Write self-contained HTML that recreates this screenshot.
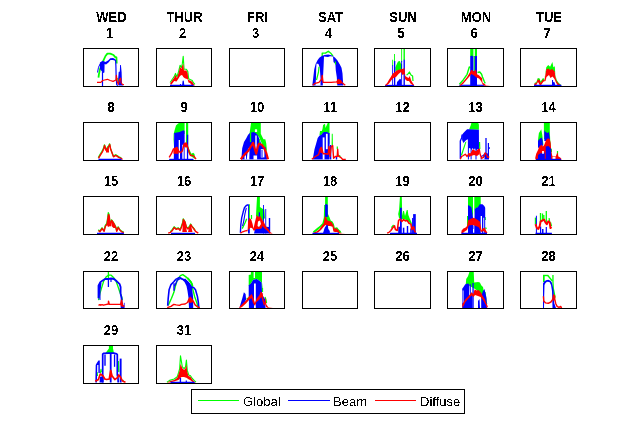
<!DOCTYPE html>
<html><head><meta charset="utf-8"><style>
html,body{margin:0;padding:0;background:#fff;width:636px;height:430px;overflow:hidden}
svg{display:block}
.t{font-family:"Liberation Sans",sans-serif;font-weight:bold;font-size:13px;text-anchor:middle;fill:#000}
.l{font-family:"Liberation Sans",sans-serif;font-size:13px;fill:#000}
</style></head><body>
<svg width="636" height="430" viewBox="0 0 636 430">
<rect width="636" height="430" fill="#fff"/>
<defs><filter id="crisp" x="0" y="0" width="636" height="430" filterUnits="userSpaceOnUse"><feComponentTransfer><feFuncA type="discrete" tableValues="0 1"/></feComponentTransfer></filter></defs>
<g filter="url(#crisp)"><text transform="translate(111.5,22) scale(1,1.1)" class="t">WED</text><text transform="translate(109.5,38) scale(1,1.1)" class="t">1</text><text transform="translate(184.5,22) scale(1,1.1)" class="t">THUR</text><text transform="translate(182.5,38) scale(1,1.1)" class="t">2</text><text transform="translate(257.5,22) scale(1,1.1)" class="t">FRI</text><text transform="translate(255.5,38) scale(1,1.1)" class="t">3</text><text transform="translate(330.5,22) scale(1,1.1)" class="t">SAT</text><text transform="translate(328.5,38) scale(1,1.1)" class="t">4</text><text transform="translate(403.0,22) scale(1,1.1)" class="t">SUN</text><text transform="translate(401.0,38) scale(1,1.1)" class="t">5</text><text transform="translate(476.0,22) scale(1,1.1)" class="t">MON</text><text transform="translate(474.0,38) scale(1,1.1)" class="t">6</text><text transform="translate(549.0,22) scale(1,1.1)" class="t">TUE</text><text transform="translate(547.0,38) scale(1,1.1)" class="t">7</text><text transform="translate(111.0,112) scale(1,1.1)" class="t">8</text><text transform="translate(184.0,112) scale(1,1.1)" class="t">9</text><text transform="translate(257.0,112) scale(1,1.1)" class="t">10</text><text transform="translate(330.0,112) scale(1,1.1)" class="t">11</text><text transform="translate(402.5,112) scale(1,1.1)" class="t">12</text><text transform="translate(475.5,112) scale(1,1.1)" class="t">13</text><text transform="translate(548.5,112) scale(1,1.1)" class="t">14</text><text transform="translate(111.0,186) scale(1,1.1)" class="t">15</text><text transform="translate(184.0,186) scale(1,1.1)" class="t">16</text><text transform="translate(257.0,186) scale(1,1.1)" class="t">17</text><text transform="translate(330.0,186) scale(1,1.1)" class="t">18</text><text transform="translate(402.5,186) scale(1,1.1)" class="t">19</text><text transform="translate(475.5,186) scale(1,1.1)" class="t">20</text><text transform="translate(548.5,186) scale(1,1.1)" class="t">21</text><text transform="translate(111.0,261) scale(1,1.1)" class="t">22</text><text transform="translate(184.0,261) scale(1,1.1)" class="t">23</text><text transform="translate(257.0,261) scale(1,1.1)" class="t">24</text><text transform="translate(330.0,261) scale(1,1.1)" class="t">25</text><text transform="translate(402.5,261) scale(1,1.1)" class="t">26</text><text transform="translate(475.5,261) scale(1,1.1)" class="t">27</text><text transform="translate(548.5,261) scale(1,1.1)" class="t">28</text><text transform="translate(111.0,335) scale(1,1.1)" class="t">29</text><text transform="translate(184.0,335) scale(1,1.1)" class="t">31</text></g>
<g transform="translate(83,48)"><svg x="0" y="0" width="56" height="39" overflow="hidden"><polyline points="15.5,29.7 15.9,26.4 16.9,21.6 18.3,17.4 20.6,12.2 22.5,8 24.4,5.6 27.2,5.6 30.5,7 32,8.9 33.4,9.4 33.7,15.5" fill="none" stroke="#00ff00" stroke-width="1.8" stroke-linejoin="round"/><polyline points="34.8,30 35.2,33 35.5,36" fill="none" stroke="#00ff00" stroke-width="1.3" stroke-linejoin="round"/><polyline points="14.5,24.5 15.5,19.3 17.3,15.5 19.7,13.2" fill="none" stroke="#0000ff" stroke-width="1.0" stroke-linejoin="round"/><polygon points="16.9,14.5 19.5,13 21.6,13.5 22.5,14 25.4,12.2 27.2,10.3 30.1,10.1 32.4,11.2 32.8,13 30,12 27.5,12 25.5,14.5 23,16.5 21.6,16 21.4,24.5 20,24.9 17,21 16.9,16" fill="#0000ff"/><polyline points="19.5,24 19.5,38" fill="none" stroke="#0000ff" stroke-width="1.2" stroke-linejoin="round"/><polyline points="32.6,12 32.9,17.9 33.1,27.3 33.7,36.7 35,37.5" fill="none" stroke="#0000ff" stroke-width="1.2" stroke-linejoin="round"/><polygon points="35.7,24 36.8,23.5 37.1,17 37.9,17 38.6,24 39,36 40.5,37.5 35.5,37.5 35.2,30" fill="#0000ff"/><polyline points="14,34.4 17.8,34.4 19.7,32.5 21.6,32 24.4,31.3 27.2,32.5 30.1,33.4 32.9,32 33.4,27.3 34.3,33.9 35.3,36.3 36.7,31.1 37.6,30.1 38.1,34.8 39.5,36.3 40.9,36.7" fill="none" stroke="#ff0000" stroke-width="1.2" stroke-linejoin="round"/></svg><rect x="0.5" y="0.5" width="55" height="38" fill="none" stroke="#000" stroke-width="1"/></g><g transform="translate(156,48)"><svg x="0" y="0" width="56" height="39" overflow="hidden"><polyline points="14.1,34.5 16.3,31.3 18.2,28.6 19.5,25.4 20.9,29 22.7,23.1 24.1,17.2 25.4,19.5 26.3,15.9 27.2,8.2 28.1,21.3 30.4,21.3 31.8,23.6 32.7,30.8 34.5,31.7 36.3,32.6 37.2,34.5 39,36.3" fill="none" stroke="#00ff00" stroke-width="1.1" stroke-linejoin="round"/><polygon points="14.1,35.5 16.3,32.3 18.2,29.8 19.5,26.8 20.9,30.2 22.7,24.5 24.1,18.8 25.4,21 26.3,17.5 27.2,16 28,22.5 30.4,22.5 31.6,25 32.5,32 34.5,32.8 36.3,33.7 37.2,35.5 39,37.5 36,37.5 34,35 32.5,34.5 31.5,31 30,30.8 28.5,30 27.3,29 26.5,27.5 25.5,27 24,28 22.5,30.5 20.5,33.5 18.2,33 16.3,35.5 15,37" fill="#ff0000"/><polyline points="14,37.5 37.6,37.5" fill="none" stroke="#0000ff" stroke-width="1.5" stroke-linejoin="round"/><polyline points="26.7,37 27.2,33.1 27.7,37" fill="none" stroke="#0000ff" stroke-width="1.2" stroke-linejoin="round"/><polyline points="24.5,37 24.5,36" fill="none" stroke="#0000ff" stroke-width="1.2" stroke-linejoin="round"/></svg><rect x="0.5" y="0.5" width="55" height="38" fill="none" stroke="#000" stroke-width="1"/></g><g transform="translate(229,48)"><svg x="0" y="0" width="56" height="39" overflow="hidden"></svg><rect x="0.5" y="0.5" width="55" height="38" fill="none" stroke="#000" stroke-width="1"/></g><g transform="translate(302,48)"><svg x="0" y="0" width="56" height="39" overflow="hidden"><polyline points="20.2,8 20.2,5.1 23.5,5.1 26.3,3.2 29.1,5.6 31,8" fill="none" stroke="#00ff00" stroke-width="1.3" stroke-linejoin="round"/><polygon points="10.3,37.5 11.2,30.1 12.2,21.6 13.6,16 15.5,12.2 17.3,9.8 19.7,8 22.5,7 26.3,6.5 30.1,7.5 32.9,9.4 35.3,12.2 37.6,16 39.5,19.8 40.5,25.4 40.9,32 41.4,37.5 35.3,37.5 34.8,29.2 33.8,22.6 33.4,16 31.5,14.1 31,8.6 28,8.2 26,9 22,8.6 21.6,17.9 21.1,27.3 20.8,37.5" fill="#0000ff"/><polygon points="14.5,15.5 16.5,16 17.8,20 18.5,30 18.5,37.5 13.5,37.5 14,30 14.2,20" fill="#fff"/><polyline points="17,18.8 16.5,24 15,30 14.5,32" fill="none" stroke="#00ff00" stroke-width="1.2" stroke-linejoin="round"/><polyline points="33.3,13.5 33.6,16.5" fill="none" stroke="#00ff00" stroke-width="1.2" stroke-linejoin="round"/><polyline points="10.7,37.2 13.1,35.3 16.9,34.4 19.7,31.1 20.2,27.3 21.1,34.4 29.1,34.4 34.8,33.9 36.2,31.5 38.6,32.5 40,34.8 43.3,37.2" fill="none" stroke="#ff0000" stroke-width="1.3" stroke-linejoin="round"/><polygon points="34.5,34 36.2,31.5 38.6,32.5 40,34.8 38,36 35,36" fill="#ff0000"/></svg><rect x="0.5" y="0.5" width="55" height="38" fill="none" stroke="#000" stroke-width="1"/></g><g transform="translate(374,48)"><svg x="0" y="0" width="57" height="39" overflow="hidden"><polygon points="21.3,19.5 22.7,16.3 24,13.6 25.9,13.1 26.8,15.4 28.1,16.3 28.1,22 21.3,23" fill="#00ff00"/><polygon points="27.2,0 28.1,0 28.1,14 27.2,14" fill="#00ff00"/><polygon points="29.5,0 30.9,0 30.9,12 29.5,12" fill="#00ff00"/><polygon points="20,5.9 20.9,5.9 20.9,14 20,14" fill="#00ff00"/><polygon points="18.2,11.8 19.1,11.8 19.1,18 18.2,18" fill="#00ff00"/><polyline points="32.5,27 33.5,26.5 35.4,24 37,27 38.6,28.1 39,33" fill="none" stroke="#00ff00" stroke-width="1.2" stroke-linejoin="round"/><polygon points="18.2,37.5 18.2,17.2 19.1,17.2 19.1,37.5" fill="#0000ff"/><polygon points="20,37.5 20,13.1 21.3,13.1 21.3,37.5" fill="#0000ff"/><polygon points="27.2,37.5 27.2,13.1 28.1,13.1 28.1,37.5" fill="#0000ff"/><polygon points="29.5,37.5 29.5,11.8 30.9,11.8 30.9,37.5" fill="#0000ff"/><polygon points="22.7,37.5 23,34 24.5,32.6 25.9,30.8 27.2,31.7 27.2,37.5" fill="#0000ff"/><polyline points="11,37.5 40,37.5" fill="none" stroke="#0000ff" stroke-width="1.3" stroke-linejoin="round"/><polygon points="10.9,37.2 13.2,34.9 15,31.7 16.8,29 18.6,25.8 20.4,24.5 22.2,22.7 24.5,21.8 26.8,21.3 28.6,20.9 30.4,19.9 31.3,28.1 32.7,29 34.5,29.9 35.8,28.1 37.2,32.6 39,35.4 40.5,37.5 38.5,37 36.5,35.5 35,33 33,33 31,31 30.5,26 28.5,27 27,24 24.5,26 22,29 19.5,30 17.5,32 15,35.5 12.5,37.5" fill="#ff0000"/></svg><rect x="0.5" y="0.5" width="56" height="38" fill="none" stroke="#000" stroke-width="1"/></g><g transform="translate(447,48)"><svg x="0" y="0" width="57" height="39" overflow="hidden"><polygon points="23.2,0 26.4,0 26.4,9 23.2,9" fill="#00ff00"/><polygon points="27.8,0 30,0 30,9 27.8,9" fill="#00ff00"/><polyline points="27.3,8 27.3,23" fill="none" stroke="#00ff00" stroke-width="1.2" stroke-linejoin="round"/><polyline points="12.4,36.3 16.4,31.7 20.1,26.3 22.3,19 23,20" fill="none" stroke="#00ff00" stroke-width="1.4" stroke-linejoin="round"/><polyline points="30.5,24.5 32.8,24 34.6,26.3 35.5,29 37.3,33.5 38.2,35.4" fill="none" stroke="#00ff00" stroke-width="1.4" stroke-linejoin="round"/><polygon points="23.2,38 23.2,8.5 24.5,7.5 26.4,8.5 26.4,23 27.8,23 27.8,8 30,8 30,38" fill="#0000ff"/><polyline points="12.4,37.3 37.6,37.3" fill="none" stroke="#0000ff" stroke-width="1.2" stroke-linejoin="round"/><polygon points="12.4,37.5 16.4,33.5 20.1,29 22.8,24.5 24.6,21.8 26.9,23.6 29.1,21.8 30,26.3 31.9,27.2 33.7,29 35,29.9 35.5,34.5 37.3,35.8 39.1,37.2 43.8,37.5 38,37.8 36,37 34,33 32,30.5 29.5,29.5 27,27.5 24.5,26 22,29 19,32.5 16,36 13.5,37.8" fill="#ff0000"/></svg><rect x="0.5" y="0.5" width="56" height="38" fill="none" stroke="#000" stroke-width="1"/></g><g transform="translate(520,48)"><svg x="0" y="0" width="57" height="39" overflow="hidden"><polygon points="14,35.3 16.4,33.9 17.8,30.1 19.7,30.6 20.6,33.4 23,30.1 24.4,31.1 26.3,19.3 28.2,17 30.1,18.8 32.4,14.1 33.4,19.3 34.8,18.3 35.3,26.4 36.7,32 38.6,34.8 41.4,37.2 38,37 36,34 34.8,24 30,23 26.3,22 24,33 20.6,35 17.8,33 16,36" fill="#00ff00"/><polygon points="14,37.5 14.5,35.5 16.4,35 17.8,31.5 19.7,32 20.6,35 23,31.5 24.4,32.5 26.3,21.6 28.2,20.5 30.1,22 32,21 34.8,23.5 35.2,28 36.5,33 38.5,35.5 41.4,37.5 37.5,37 36,34.5 34.5,31 32.5,28.5 30.5,30 29,27 26.5,29 25.5,33 23.5,33.5 21.5,36.5 20,37.5 18,34 16,37.5" fill="#ff0000"/><polyline points="14,37.4 41.4,37.4" fill="none" stroke="#0000ff" stroke-width="1.3" stroke-linejoin="round"/><polygon points="32,37.5 32,32 33,32 33.2,34 34.8,34.5 35,37.5" fill="#0000ff"/></svg><rect x="0.5" y="0.5" width="56" height="38" fill="none" stroke="#000" stroke-width="1"/></g><g transform="translate(83,122)"><svg x="0" y="0" width="56" height="39" overflow="hidden"><polyline points="15.3,35.6 16.7,33.2 19,29.4 20.4,26.6 21.4,22.8 22.8,27.5 24.2,25.7 25.6,23.8 26.6,21.9 27.5,26.6 28.9,30.4 30.3,34.1 32.7,32.7 35.5,34.6 38.4,36" fill="none" stroke="#00ff00" stroke-width="1.3" stroke-linejoin="round"/><polyline points="15.5,36.3 16.9,33.9 19.2,30.1 20.6,27.3 21.6,23.5 23,28.2 24.4,26.4 25.8,24.5 26.8,22.6 27.7,27.3 29.1,31.1 30.5,34.8 32.9,33.4 35.7,35.3 38.6,36.7 39.5,37.5" fill="none" stroke="#ff0000" stroke-width="1.4" stroke-linejoin="round"/><polygon points="23,28.2 25.8,24.5 26,30.5 23,30.5" fill="#ff0000"/><polyline points="15.5,37.4 38.6,37.4" fill="none" stroke="#0000ff" stroke-width="1.3" stroke-linejoin="round"/></svg><rect x="0.5" y="0.5" width="55" height="38" fill="none" stroke="#000" stroke-width="1"/></g><g transform="translate(156,122)"><svg x="0" y="0" width="56" height="39" overflow="hidden"><polygon points="17.3,24.5 17.7,11.8 18.6,8.2 20,3.6 21.8,1.8 24.5,0 28.6,0 28.6,12 18.5,12" fill="#00ff00"/><polygon points="30,0 32.2,0 32.2,24.5 33.6,28.1 35.4,31.7 37.2,30.8 38.5,32 39.2,37 36,35 33,32 30,24" fill="#00ff00"/><polygon points="17.8,37.5 18.2,10.9 23.6,10 27.7,8.2 28.6,9 28.6,37.5" fill="#0000ff"/><polygon points="30.9,37.5 30.9,12.7 32.2,12.7 32.2,37.5" fill="#0000ff"/><polygon points="22.7,18 24,18 24,37.5 22.7,37.5" fill="#fff"/><polygon points="26.3,22.7 27.7,22.7 27.7,37.5 26.3,37.5" fill="#fff"/><polyline points="13.2,35.4 15.4,31.7 17.3,27.2 19.1,26.3 20.9,25.4 22.7,29 24.5,30.8 26.3,29 28.1,21.8 30.4,21.3 31.8,25.4 33.1,29.9 34.5,33.5 36.7,33.5 38.1,34.5 40,37.2" fill="none" stroke="#ff0000" stroke-width="1.4" stroke-linejoin="round"/><polygon points="17.3,27.2 19.1,26.3 20.9,25.4 22.7,29 22.5,31.7 17.5,31.7" fill="#ff0000"/><polygon points="27.8,24 28.1,21 30.4,20.5 31.8,25 29,25.5" fill="#ff0000"/><polyline points="13.2,37.4 37.5,37.4" fill="none" stroke="#0000ff" stroke-width="1.2" stroke-linejoin="round"/></svg><rect x="0.5" y="0.5" width="55" height="38" fill="none" stroke="#000" stroke-width="1"/></g><g transform="translate(229,122)"><svg x="0" y="0" width="56" height="39" overflow="hidden"><polygon points="20.5,12 20.9,9.1 22.2,0 31.8,0 31.8,11.8 33.1,14.5 34.5,17.2 36.3,17.2 37.2,20.9 38.1,29.9 36,26 33,22 30,15 26,11 21,12" fill="#00ff00"/><polygon points="12.3,37.5 13.2,26.3 15,20 17.3,16.3 19.1,12.7 20.9,10.9 24.5,10 26.8,10.9 29,13.6 30.4,17.2 32.7,22.7 34.9,24.5 36.7,25.4 38.1,37.5" fill="#0000ff"/><polygon points="20.9,10.9 22.2,10.9 22.2,20 20.9,20" fill="#00ff00"/><polyline points="30.6,17 30.6,21" fill="none" stroke="#00ff00" stroke-width="0.9" stroke-linejoin="round"/><polygon points="25.9,7.3 28.1,7.3 28.1,10 25.9,10" fill="#fff"/><polygon points="26.3,13.6 27.7,13.6 27.7,27.2 26.3,27.2" fill="#fff"/><polygon points="19,27 20.5,25.5 20.3,37.5 17.7,37.5" fill="#fff"/><polygon points="24.5,33.5 28.1,33.5 28.1,37.5 24.5,37.5" fill="#fff"/><polygon points="31.8,27.2 35.4,27.2 35.4,35.4 31.8,35.4" fill="#fff"/><polyline points="33,28 33,35" fill="none" stroke="#0000ff" stroke-width="1" stroke-linejoin="round"/><polygon points="15.5,34 17,33 17,37.5 15.5,37.5" fill="#fff"/><polyline points="11.8,37.2 15.4,32.6 19.1,29 21.8,24.5 24.1,20.9 25.9,27.2 27.2,31.7 28.6,25.4 29.9,21.8 32.7,22.7 35.4,26.3 37.2,30.8 39,37.2" fill="none" stroke="#ff0000" stroke-width="2.2" stroke-linejoin="round"/></svg><rect x="0.5" y="0.5" width="55" height="38" fill="none" stroke="#000" stroke-width="1"/></g><g transform="translate(302,122)"><svg x="0" y="0" width="56" height="39" overflow="hidden"><polygon points="17.5,13 18,9 19.8,9 20.5,7 21.1,3 23,1.8 23.5,6 25.7,0.9 27.5,0.9 27.5,21.8 26.6,21.8 26.6,11 21.6,10.5 19.3,13" fill="#00ff00"/><polygon points="29.8,11.8 30.7,11.8 30.9,23.6 29.6,23.6" fill="#00ff00"/><polyline points="35.3,24.5 35.3,27.3" fill="none" stroke="#00ff00" stroke-width="1.2" stroke-linejoin="round"/><polyline points="14.8,22.7 14.8,25.4" fill="none" stroke="#00ff00" stroke-width="1.2" stroke-linejoin="round"/><polyline points="36.2,33 38.5,34.5" fill="none" stroke="#00ff00" stroke-width="1.3" stroke-linejoin="round"/><polygon points="10.7,37.5 12.5,27.2 14.3,20.9 15.7,15.9 17.5,13.6 19.3,12.7 21.6,10 25.2,10 26.6,10.9 27.6,11 27.6,37.5" fill="#0000ff"/><polygon points="20.7,15.4 22.5,15.4 22.5,37.5 20.7,37.5" fill="#fff"/><polygon points="23.9,11.8 25.7,11.8 25.7,27.2 23.9,27.2" fill="#fff"/><polygon points="28,37.5 28,23 29.3,23 29.3,37.5" fill="#0000ff"/><polygon points="33.8,37.5 33.8,34 35.2,34 35.2,37.5" fill="#0000ff"/><polyline points="9.8,37.2 13.4,34.5 16.6,32.6 18,27.2 19.3,25.4 20.2,28.1 21.1,31.7 23.9,31.7 26.1,32.2 27,24.5 28,34.5 29.3,24.5 30.7,23.6 31.6,36.3 33.4,34.5 35.2,34.5 35.7,27.3 36.2,33.9 38.6,35.3 40.5,37.2 43.8,37.5" fill="none" stroke="#ff0000" stroke-width="1.4" stroke-linejoin="round"/><polygon points="18,27.2 19.3,25.4 20.4,28 21,31 18.5,31" fill="#ff0000"/></svg><rect x="0.5" y="0.5" width="55" height="38" fill="none" stroke="#000" stroke-width="1"/></g><g transform="translate(374,122)"><svg x="0" y="0" width="57" height="39" overflow="hidden"></svg><rect x="0.5" y="0.5" width="56" height="38" fill="none" stroke="#000" stroke-width="1"/></g><g transform="translate(447,122)"><svg x="0" y="0" width="57" height="39" overflow="hidden"><polygon points="22.3,7.5 22.3,6.8 23.7,3.6 24.6,0 30.9,0 31.9,2.7 31.9,7.7" fill="#00ff00"/><polygon points="13.7,33.5 18.3,20 19.5,19.5 15,33.5" fill="#00ff00"/><polyline points="32.5,20 32.8,27" fill="none" stroke="#00ff00" stroke-width="1.2" stroke-linejoin="round"/><polyline points="13.3,36.7 13.3,19 14.6,15.9 15.1,12.7" fill="none" stroke="#0000ff" stroke-width="1.3" stroke-linejoin="round"/><polygon points="15.1,18.1 15.1,12.7 16.4,10.9 18.3,9.1 20.1,7.3 22.3,7.3 31.9,7.7 32,27.5 30,27 29.5,29 28,26 27,28 25.5,26 24.5,28 23.5,26.5 22,26 21,26.5 21,17.2 19.2,18.1 16.4,20.9" fill="#0000ff"/><polyline points="21.4,17 21.4,37.5" fill="none" stroke="#0000ff" stroke-width="1" stroke-linejoin="round"/><polyline points="24.1,26.5 24.1,37.5" fill="none" stroke="#0000ff" stroke-width="1" stroke-linejoin="round"/><polyline points="29,24 29,37.5" fill="none" stroke="#0000ff" stroke-width="1" stroke-linejoin="round"/><polyline points="39,16 39,37" fill="none" stroke="#0000ff" stroke-width="1.3" stroke-linejoin="round"/><polyline points="41.4,21 41.4,37" fill="none" stroke="#0000ff" stroke-width="1.2" stroke-linejoin="round"/><polyline points="42,25 42.2,27" fill="none" stroke="#0000ff" stroke-width="1.2" stroke-linejoin="round"/><polygon points="33.5,37.5 34,34 36,33 38.2,30.5 42,32 42,37.5" fill="#0000ff"/><polygon points="34.6,35 36.4,34 37.5,35 37.5,37.5 34.6,37.5" fill="#fff"/><polyline points="13.3,37.2 14.6,34.5 16.4,33.5 18.3,32.2 20.1,34.5 21.9,31.7 23.7,32.6 26,28.1 27.3,29 29.1,29.9 30.9,28.1 32.3,27.2 33.2,32.6 34.6,36.3 36.4,35.4 38.2,30.8 39.6,32.6 40.5,35.3 42.3,34.8" fill="none" stroke="#ff0000" stroke-width="1.3" stroke-linejoin="round"/><polygon points="22,32 23.7,31.5 26,27.5 27.3,28.5 29.1,29.4 30.9,27.5 32.3,26.8 32.5,32 30,34 27,33 24,34 22,35" fill="#ff0000"/></svg><rect x="0.5" y="0.5" width="56" height="38" fill="none" stroke="#000" stroke-width="1"/></g><g transform="translate(520,122)"><svg x="0" y="0" width="57" height="39" overflow="hidden"><polygon points="23.9,0 29.8,0 29.8,8.2 30.2,18.1 31.1,26.3 32,27.5 32,30 29,30 29,17 23.9,17" fill="#00ff00"/><polygon points="18,20 18,18.1 18.9,10.9 20.3,9.1 21.2,7.3 22.1,11.8 22.6,15.5 23.4,22.7 20,22" fill="#00ff00"/><polyline points="37.5,29 37.5,33" fill="none" stroke="#00ff00" stroke-width="1.2" stroke-linejoin="round"/><polygon points="18,26 18,19 19.3,17.2 21.6,15.4 22.5,18.1 23,23.6 20,25" fill="#0000ff"/><polygon points="24.3,18 24.3,8.2 25.7,10 27.5,10.9 28.9,10 29.8,16.3 29.8,19 24.3,19" fill="#0000ff"/><polygon points="15.3,35.4 16.2,31.7 18,28.1 19.3,24.5 21.6,22.7 23,24.5 24.3,22.7 26.1,18.1 28,16.3 29.8,17.2 30.7,20.9 31.1,27.2 32,32.6 32.5,34.5 35.7,34.5 37.5,29.9 38.4,34.5 40.2,35.4 42,37.5 15.3,37.5" fill="#ff0000"/><polygon points="18,37.5 18,33 20,31.5 23,31 24.8,30.5 24.8,37.5" fill="#0000ff"/><polygon points="25.7,37.5 25.7,24.5 28.5,24 31.1,27 31.1,37.5" fill="#0000ff"/><polygon points="22.1,29 23.9,29 23.9,31.7 22.1,31.7" fill="#fff"/><polygon points="32.5,35 35.5,35 35.5,37.5 32.5,37.5" fill="#fff"/><polyline points="16,37.4 41,37.4" fill="none" stroke="#0000ff" stroke-width="1.2" stroke-linejoin="round"/></svg><rect x="0.5" y="0.5" width="56" height="38" fill="none" stroke="#000" stroke-width="1"/></g><g transform="translate(83,196)"><svg x="0" y="0" width="56" height="39" overflow="hidden"><polyline points="15.3,33.7 16.7,35.1 19,31.8 20.9,34.6 22.3,29.4 23.8,27.5 24.7,21.9 25.3,16.7 26.1,18.6 27,29 28.5,23.8 29.9,25.7 31.3,28 32.7,30.8 33.6,34.6 35.1,30.8 36.5,33.2 38.4,35.1 40.7,36" fill="none" stroke="#00ff00" stroke-width="1.3" stroke-linejoin="round"/><polyline points="15.5,34.4 16.9,35.8 19.2,32.5 21.1,35.3 22.5,30.1 24,28.2 24.9,22.6 25.5,18.4 26.3,20.3 27.2,29.7 28.7,24.5 30.1,26.4 31.5,28.7 32.9,31.5 33.8,35.3 35.3,31.5 36.7,33.9 38.6,35.8 40.9,36.7" fill="none" stroke="#ff0000" stroke-width="1.4" stroke-linejoin="round"/><polygon points="24.5,23 25.5,19 26.5,21 27,30 25,31 24,29" fill="#ff0000"/><polygon points="28.5,25 30.1,26.4 31.5,28.7 32.5,32 30.5,32 28.5,30" fill="#ff0000"/><polyline points="14,37.4 40.9,37.4" fill="none" stroke="#0000ff" stroke-width="1.3" stroke-linejoin="round"/></svg><rect x="0.5" y="0.5" width="55" height="38" fill="none" stroke="#000" stroke-width="1"/></g><g transform="translate(156,196)"><svg x="0" y="0" width="56" height="39" overflow="hidden"><polyline points="14.3,35.6 16.2,33.7 18.1,30.8 20,32.7 22.3,31.8 23.8,33.7 25.2,30.8 26.6,26.6 27.2,22.8 28.9,25.7 30.3,30.8 31.8,32.3 33.2,30.8 34.6,28 36,30.4 37.4,31.8 39.3,34.6" fill="none" stroke="#00ff00" stroke-width="1.3" stroke-linejoin="round"/><polyline points="12.2,37.2 14.5,36.3 16.4,34.4 18.3,31.5 20.2,33.4 22.5,32.5 24,34.4 25.4,31.5 26.8,27.3 27.4,23.5 29.1,26.4 30.5,31.5 32,33 33.4,31.5 34.8,28.7 36.2,31.1 37.6,32.5 39.5,35.3 42.3,37.2" fill="none" stroke="#ff0000" stroke-width="1.4" stroke-linejoin="round"/><polygon points="26.3,36 27,26 27.6,24 29.5,27 30,31 31,36" fill="#ff0000"/><polygon points="32,36 33,32 34.8,29 35.6,32 36.5,36" fill="#ff0000"/><polyline points="15,37.4 39,37.4" fill="none" stroke="#0000ff" stroke-width="1.3" stroke-linejoin="round"/></svg><rect x="0.5" y="0.5" width="55" height="38" fill="none" stroke="#000" stroke-width="1"/></g><g transform="translate(229,196)"><svg x="0" y="0" width="56" height="39" overflow="hidden"><polygon points="27.2,15.4 28.1,0 30.9,0 30.9,10.9 33.6,12.7 35.4,13.6 36,22 33,25 29,22 27,20" fill="#00ff00"/><polygon points="20,8.2 20.9,8.2 20.9,23.6 20,23.6" fill="#00ff00"/><polyline points="13.2,32.6 16.3,26.3 17.7,22.7" fill="none" stroke="#00ff00" stroke-width="1.3" stroke-linejoin="round"/><polyline points="22.5,19 22.5,23" fill="none" stroke="#00ff00" stroke-width="1.2" stroke-linejoin="round"/><polyline points="11.4,36.7 11.8,29 12.7,21.8 14.1,16.3 15.4,11.8 17.3,9.5 19.5,8.6" fill="none" stroke="#0000ff" stroke-width="1.4" stroke-linejoin="round"/><polygon points="19.1,8.6 20,8.6 20,30 19.1,30" fill="#0000ff"/><polyline points="13.5,30 14.5,26.3 15.9,18.1 17.3,11.8" fill="none" stroke="#0000ff" stroke-width="1.1" stroke-linejoin="round"/><polygon points="34,37.5 34,9.1 34.9,9.1 34.9,37.5" fill="#0000ff"/><polygon points="36.3,37.5 36.3,13.1 37.2,13.1 37.2,37.5" fill="#0000ff"/><polyline points="40.5,22 40.5,37" fill="none" stroke="#0000ff" stroke-width="1.4" stroke-linejoin="round"/><polyline points="30.4,16.3 30.4,22.7" fill="none" stroke="#0000ff" stroke-width="1.3" stroke-linejoin="round"/><polygon points="19,37.5 19,32 20.8,31 20.8,37.5" fill="#0000ff"/><polygon points="25,37.5 26,33 29,30 30.9,25.4 32.7,27.2 34,30 37.2,30.8 40,31 41,37.5" fill="#0000ff"/><polygon points="18.6,34.5 19.1,25.4 20.4,21.8 22.2,23.6 23.6,28.1 24.5,32.6 25.9,26.3 27.7,19 29.5,20.9 31.3,19.9 33.1,23.6 34.9,26.3 36.7,29.9 39,32.6 41.4,36.3 43.8,37.5 40.5,37.5 38.5,35 36,33 33.5,30 32.7,32.6 30,33 27,33 25,35 23,32 21.5,31.7" fill="#ff0000"/><polygon points="29,25.5 31,24.5 32,28 30,31 28.5,30" fill="#fff"/><polyline points="11.4,37.2 13.6,35.8 16.3,34.9 18.6,34.5" fill="none" stroke="#ff0000" stroke-width="1.3" stroke-linejoin="round"/></svg><rect x="0.5" y="0.5" width="55" height="38" fill="none" stroke="#000" stroke-width="1"/></g><g transform="translate(302,196)"><svg x="0" y="0" width="56" height="39" overflow="hidden"><polygon points="10.9,35.4 15.4,31.7 17.7,29.9 20.4,27.2 21.8,21.8 22.2,9.1 23.1,9 23.1,0 25.8,0 25.8,17 26,18.1 27.4,20.9 28.7,24.5 30.5,25.4 31.9,28.1 32.8,31.7 35.1,31.3 36.9,33.5 38.7,34.9 39.6,37.2 37,36 34,33.5 32,33 30.5,28 27,26 25,25 22,28 19,31 16,34 12,37" fill="#00ff00"/><polygon points="23.1,21 23.1,9 24,7.7 25.8,9 25.8,21" fill="#0000ff"/><polygon points="10.4,37.2 14.5,35.4 17.2,33.5 19.5,29.9 21.8,27.2 22.7,20.4 24,20.8 25.4,24.5 27.2,25 29.5,26 31.4,29 32.3,32.6 34.2,32.2 36.4,34 37.8,36.3 39.6,37.2 43.7,37.5 37,37.5 35,36 33,36 31.4,35.4 30.5,30.8 28,30 26,30 23.5,29 21.5,31 19,34 16,36.5 12,37.6" fill="#ff0000"/><polygon points="20.9,37.5 22.7,31.7 24.5,29 25.8,29 26.3,33 27.8,34.9 27.8,37.5" fill="#0000ff"/><polyline points="10.5,37.4 37,37.4" fill="none" stroke="#0000ff" stroke-width="1.3" stroke-linejoin="round"/></svg><rect x="0.5" y="0.5" width="55" height="38" fill="none" stroke="#000" stroke-width="1"/></g><g transform="translate(374,196)"><svg x="0" y="0" width="57" height="39" overflow="hidden"><polygon points="24.2,18.1 25.1,13.6 26,0 27.8,0 28.2,19.8 29.1,15 30,15 31,20 32.8,14 33.7,14 34.3,18.8 35.7,22.6 37.6,26.4 38.6,32 37,28 34,25 30,23 27,23 25,22" fill="#00ff00"/><polyline points="19.6,29 17.4,31.7" fill="none" stroke="#00ff00" stroke-width="1.3" stroke-linejoin="round"/><polygon points="26,37.5 26,11.8 27.8,11.8 27.8,37.5" fill="#0000ff"/><polygon points="24.2,37.5 24.2,30.8 26,30.8 26,37.5" fill="#0000ff"/><polyline points="29.6,31.7 29.6,37.5" fill="none" stroke="#0000ff" stroke-width="1.5" stroke-linejoin="round"/><polyline points="33.5,30 33.5,37.5" fill="none" stroke="#0000ff" stroke-width="1.4" stroke-linejoin="round"/><polyline points="37,32.6 37,37.5" fill="none" stroke="#0000ff" stroke-width="1.5" stroke-linejoin="round"/><polygon points="39.1,37.5 39.1,18.1 41.8,18.1 41.8,37.5" fill="#0000ff"/><polyline points="38.7,22 38.7,37" fill="none" stroke="#0000ff" stroke-width="1.2" stroke-linejoin="round"/><polyline points="16,37.4 43,37.4" fill="none" stroke="#0000ff" stroke-width="1.3" stroke-linejoin="round"/><polyline points="16.9,34.5 18.7,31.7 20.5,29.9 21.4,33.5 23.3,34.5 24.6,24.5 26,23.1 27.8,25.4 29.6,23.6 31.4,24.9 33.2,24.5 35,27.2 36.9,28.1 37.8,33.5 39.6,30.8 40.5,34.5 41.5,36.5" fill="none" stroke="#ff0000" stroke-width="1.6" stroke-linejoin="round"/><polyline points="13.1,37.2 15,36.3 16.9,34.5" fill="none" stroke="#ff0000" stroke-width="1.3" stroke-linejoin="round"/></svg><rect x="0.5" y="0.5" width="56" height="38" fill="none" stroke="#000" stroke-width="1"/></g><g transform="translate(447,196)"><svg x="0" y="0" width="57" height="39" overflow="hidden"><polygon points="21,0 33.7,0 33.7,9 31.9,11 28.2,12.7 27,22 26,22 25,18.1 22.8,11.8 21,10" fill="#00ff00"/><polygon points="20,20 21,20 21,30 20,30" fill="#00ff00"/><polyline points="38,21 38.3,24" fill="none" stroke="#00ff00" stroke-width="1.3" stroke-linejoin="round"/><polyline points="38.6,31.5 39.2,33" fill="none" stroke="#00ff00" stroke-width="1.3" stroke-linejoin="round"/><polygon points="21,37.5 21,9.1 23.7,10.4 24.6,11.8 25.5,18.1 26,22 26,37.5" fill="#0000ff"/><polygon points="27.3,37.5 27.3,22 27.8,12.7 31,10.9 32.8,8.2 35.5,8.2 37.3,10 38.2,11.8 38.2,37.5" fill="#0000ff"/><polygon points="26,0 27.3,0 27.3,22 26,22" fill="#fff"/><polygon points="33.7,20 35,20 35,37.5 33.7,37.5" fill="#fff"/><polygon points="36.3,21.8 37.2,21.8 37.2,37.5 36.3,37.5" fill="#fff"/><polygon points="14.2,37.5 14.6,34.5 16.4,32.6 18.3,31.7 20.1,29.9 21,24.5 23.7,22.7 26.9,21.8 30,23.6 32.8,25.4 33.7,29.9 34.6,34.5 35.5,32.6 37.7,31.7 39.1,34.5 40.5,37 38.5,37 36.5,35 34,36 32,31.5 29.1,30 25,29 21.9,29.5 20,34 17,36 15.5,37.5" fill="#ff0000"/><polygon points="25,30 26.5,29.5 26.5,33 25,33" fill="#0000ff"/><polyline points="14.5,37.4 40,37.4" fill="none" stroke="#0000ff" stroke-width="1.3" stroke-linejoin="round"/></svg><rect x="0.5" y="0.5" width="56" height="38" fill="none" stroke="#000" stroke-width="1"/></g><g transform="translate(520,196)"><svg x="0" y="0" width="57" height="39" overflow="hidden"><polyline points="15.5,21.6 15.5,28" fill="none" stroke="#00ff00" stroke-width="1.4" stroke-linejoin="round"/><polyline points="20.5,17 20.5,27" fill="none" stroke="#00ff00" stroke-width="1.3" stroke-linejoin="round"/><polyline points="22.5,17.5 22.5,25" fill="none" stroke="#00ff00" stroke-width="1.3" stroke-linejoin="round"/><polyline points="23.8,19 23.8,25" fill="none" stroke="#00ff00" stroke-width="1.3" stroke-linejoin="round"/><polyline points="26.3,15 26.3,27" fill="none" stroke="#00ff00" stroke-width="1.3" stroke-linejoin="round"/><polyline points="29.1,22.1 29.6,26" fill="none" stroke="#00ff00" stroke-width="1.3" stroke-linejoin="round"/><polyline points="30.5,26.4 31.5,30.1" fill="none" stroke="#00ff00" stroke-width="1.3" stroke-linejoin="round"/><polygon points="15.9,37.5 15.9,19.8 16.9,19.8 16.9,37.5" fill="#0000ff"/><polyline points="20.6,30.5 20.6,37" fill="none" stroke="#0000ff" stroke-width="1.2" stroke-linejoin="round"/><polygon points="22,37.5 22,33 23.5,33 23.5,37.5" fill="#0000ff"/><polyline points="26.3,31 26.3,37" fill="none" stroke="#0000ff" stroke-width="1.2" stroke-linejoin="round"/><polyline points="15.5,37.4 31.9,37.4" fill="none" stroke="#0000ff" stroke-width="1.3" stroke-linejoin="round"/><polyline points="15.5,28.2 16.9,32 18.3,33 19.7,30.1 20.6,25.4 22.5,24.5 24,23.5 25.4,26.4 26.8,28.2 28.2,25.4 29.6,26.4 30.5,32 31.5,31.1" fill="none" stroke="#ff0000" stroke-width="2" stroke-linejoin="round"/></svg><rect x="0.5" y="0.5" width="56" height="38" fill="none" stroke="#000" stroke-width="1"/></g><g transform="translate(83,271)"><svg x="0" y="0" width="56" height="38" overflow="hidden"><polyline points="25.4,0 25.4,8.4" fill="none" stroke="#00ff00" stroke-width="1.3" stroke-linejoin="round"/><polyline points="15.5,29.2 16.9,22.6 18.3,17.9 20.6,10.3 23,6.1 25.4,4.2 28.2,4.2 30.5,6.5 32.9,9.8 34.8,15 36.7,20.7 38.6,25.4 39.5,29.2" fill="none" stroke="#00ff00" stroke-width="1.3" stroke-linejoin="round"/><polyline points="15.5,27.3 15.5,14.6 17.3,11.3 19.7,9.4 22,8 25.4,8 28.2,7.5 31,8 33.8,10.3 36.7,13.2 37.6,16 37.6,22.6 38.6,27.3 38.6,37" fill="none" stroke="#0000ff" stroke-width="1.8" stroke-linejoin="round"/><polygon points="15,14.6 17.3,11.8 18.5,12 17.5,20 17.5,29 16.5,29 16,22 15,29.5" fill="#0000ff"/><polyline points="25.4,8 25.4,16" fill="none" stroke="#0000ff" stroke-width="1.3" stroke-linejoin="round"/><polyline points="28,8 28,11" fill="none" stroke="#0000ff" stroke-width="1.2" stroke-linejoin="round"/><polygon points="38,37 38.2,30 39.5,32 40.5,35 41,31.5 41.6,32 41.6,37" fill="#0000ff"/><polyline points="15.5,34.4 16.9,33.6 17.8,34.2 19,33.6 20.5,34.2 22.5,33.6 25.4,33 25.5,30.1 26.3,33.4 37.6,33.4 38.6,29.2 39.5,34.8 41.4,35.3" fill="none" stroke="#ff0000" stroke-width="1.4" stroke-linejoin="round"/><polygon points="37.5,33.5 38.3,29.5 39,30 39.8,35.5 37.8,35.5" fill="#ff0000"/></svg><rect x="0.5" y="0.5" width="55" height="37" fill="none" stroke="#000" stroke-width="1"/></g><g transform="translate(156,271)"><svg x="0" y="0" width="56" height="38" overflow="hidden"><polyline points="12.2,34.4 15.5,27.3 17.8,21.6 19.7,14.1 21.6,8.4 24.4,4.7 26.8,3.7 29.6,5.6 32.9,8.4 35.3,11.3 36.7,17.9 38.6,25.4 40.9,32 42.3,36.7" fill="none" stroke="#00ff00" stroke-width="1.4" stroke-linejoin="round"/><polyline points="31.5,7 33.5,9.5 35.7,12.5 36.5,15.5" fill="none" stroke="#00ff00" stroke-width="2" stroke-linejoin="round"/><polyline points="11.7,34.8 12.2,27.3 13.1,18.8 15,13.6 17.8,10.8 19.7,8.4 23.5,6.5 26.3,8 29.6,9.4 32,11.3 34.8,16 37.6,16.5 39.5,18.8 41.4,25.4 42.3,31.1 42.8,36.7" fill="none" stroke="#0000ff" stroke-width="1.6" stroke-linejoin="round"/><polygon points="17.3,12.2 18.8,12.2 18.8,19.8 17.3,19.8" fill="#0000ff"/><polyline points="18.5,15 19.2,14.1 21.1,9.4 24.4,7.5 27,8.5" fill="none" stroke="#0000ff" stroke-width="1.3" stroke-linejoin="round"/><polygon points="29.2,7.5 31,9.4 33.8,12.2 35.7,15 36.7,22.6 37.2,27.3 37.2,37 33,37 32.5,27 31.5,20 30.5,15 28.5,11 26.5,9" fill="#0000ff"/><polyline points="11.2,36.7 15,35.3 17.8,33.4 20.2,33.9 23.5,34.4 25.4,33.4 29.1,33 31.5,31.5 32.9,28.2 34.3,26.4 35.7,28.2 37.2,30.1 39.1,33.9 41.4,35.8 43.8,36.7" fill="none" stroke="#ff0000" stroke-width="1.4" stroke-linejoin="round"/><polygon points="32,31 33.5,27.5 34.5,26.5 36,28.5 37.5,31 34,32" fill="#ff0000"/><polygon points="35,37 35.2,32 36.5,32 36.8,37" fill="#0000ff"/></svg><rect x="0.5" y="0.5" width="55" height="37" fill="none" stroke="#000" stroke-width="1"/></g><g transform="translate(229,271)"><svg x="0" y="0" width="56" height="38" overflow="hidden"><polygon points="19.7,15 19.7,4 21.9,3.5 21.9,0 33,0 33,11.5 33.5,16 34,21 32.6,21 32.6,11.5 30.4,9.7 27.7,8 24.2,8.8 21.9,12.4" fill="#00ff00"/><polygon points="24.6,0 26,0 26,7 24.6,7" fill="#fff"/><polyline points="17.5,27.5 19.5,27.5" fill="none" stroke="#00ff00" stroke-width="1.4" stroke-linejoin="round"/><polyline points="33.5,17 33.5,21" fill="none" stroke="#00ff00" stroke-width="1.2" stroke-linejoin="round"/><polyline points="36,26 37,29 37.5,32" fill="none" stroke="#00ff00" stroke-width="1.3" stroke-linejoin="round"/><polygon points="10.5,36.5 13.5,26.5 14.9,21.2 16.6,23 17.1,28.5 15,33" fill="#0000ff"/><polygon points="19.7,37 19.7,14.2 21.9,12.4 24.2,8.8 27.7,8 30.4,9.7 32.6,11.5 33,21.2 34,25 36,28 36.5,37" fill="#0000ff"/><polygon points="25,12.4 26.8,12.4 26.8,37 25,37" fill="#fff"/><polygon points="18,37 18,30 19.7,29 19.7,37" fill="#fff"/><polygon points="10,36.5 13.5,32.7 17.1,29.2 19.7,25.7 22.8,23 24.6,27.4 25.9,31.9 27.7,27.4 30.4,23.9 31.7,20.4 33.5,22.1 34.3,26.5 35.2,31.9 36.5,26.5 37.4,33.6 39.5,36.5 44,37 39,37 37,36 36,33 35,35 33.5,30 32.5,26 30,29 27.5,31 26,35 24,32 22.5,27 20,29 17,32.5 13,36 11,37" fill="#ff0000"/></svg><rect x="0.5" y="0.5" width="55" height="37" fill="none" stroke="#000" stroke-width="1"/></g><g transform="translate(302,271)"><svg x="0" y="0" width="56" height="38" overflow="hidden"></svg><rect x="0.5" y="0.5" width="55" height="37" fill="none" stroke="#000" stroke-width="1"/></g><g transform="translate(374,271)"><svg x="0" y="0" width="57" height="38" overflow="hidden"></svg><rect x="0.5" y="0.5" width="56" height="37" fill="none" stroke="#000" stroke-width="1"/></g><g transform="translate(447,271)"><svg x="0" y="0" width="57" height="38" overflow="hidden"><polygon points="18.8,13 19.2,8 21,5.3 22.7,0 26.7,0 27.2,11.5 31.1,11.1 32.9,11.5 34.2,14.2 36,15.9 36.9,20.4 38.7,21.2 39.5,29.2 40.4,33.6 38,30 33,22 28,18 21,14" fill="#00ff00"/><polygon points="15.2,37 15.2,17.7 16.5,15.9 18.3,13.3 20.5,12.4 22,13 22.5,14 22,30 17,37" fill="#0000ff"/><polygon points="23.2,13.3 24,13.3 24,30 23.2,30" fill="#0000ff"/><polygon points="25.4,12 26.7,12 26.7,37 25.4,37" fill="#0000ff"/><polygon points="15.7,19.5 16.5,19.5 16.5,32 15.7,32" fill="#fff"/><polygon points="16.5,37 18.3,30 21.8,26.5 24.5,23 25.5,25 25.5,37" fill="#0000ff"/><polygon points="34.2,37 34.2,25 36,20 37.5,18 39.5,27 40,37" fill="#0000ff"/><polygon points="31,30 32.5,28 33,37 31,37" fill="#0000ff"/><polygon points="15.2,33.6 18.3,28.3 21.8,24.8 24.5,21.2 26.3,23 27.6,18.6 29.8,19.5 31.6,19 33.8,21.2 35.6,24.8 37.8,28.3 39.5,32.7 40.9,35.4 40,37 38.5,33.5 36,29 33.5,26 31,25 28,24 26.5,26 24.5,24.5 21.5,27.5 18.5,31 15.5,37" fill="#ff0000"/></svg><rect x="0.5" y="0.5" width="56" height="37" fill="none" stroke="#000" stroke-width="1"/></g><g transform="translate(520,271)"><svg x="0" y="0" width="57" height="38" overflow="hidden"><polygon points="23,11 23,4 24.7,4 24.7,11" fill="#00ff00"/><polyline points="23,4.5 28.3,4.5" fill="none" stroke="#00ff00" stroke-width="1.4" stroke-linejoin="round"/><polyline points="27.8,4.5 32.3,10" fill="none" stroke="#00ff00" stroke-width="1.3" stroke-linejoin="round"/><polygon points="32.3,4 33.6,4 33.6,11.5 34,17.7 34.9,22.1 35.8,26.5 34,27 32.5,15 32.3,10" fill="#00ff00"/><polygon points="23,37 23,12.4 24.3,10.2 26.1,9.3 28.3,8.8 30.5,9.7 31.8,11.5 32.7,15 33.6,19.5 34,26.5 34.2,32 35.4,35.4 36,37 32.5,37 32.3,28 32,20 31,14 29.5,11 27,10.8 25.5,12 24.5,14 24.2,25 24,37" fill="#0000ff"/><polyline points="23.4,25.2 23.8,30.1 25.6,31.9 28.3,32.3 30.9,31 32.7,28.3 33.6,23.9 34.5,24.8 34.9,29.2 35.8,32.7 37.1,35.4 38.9,36.3 40.7,35.4 41.6,37" fill="none" stroke="#ff0000" stroke-width="1.4" stroke-linejoin="round"/><polygon points="33.2,27 33.6,23.9 34.5,24.8 35,29 33.5,30" fill="#ff0000"/></svg><rect x="0.5" y="0.5" width="56" height="37" fill="none" stroke="#000" stroke-width="1"/></g><g transform="translate(83,345)"><svg x="0" y="0" width="56" height="39" overflow="hidden"><polygon points="22.7,8.5 22.7,7.7 25.9,3.6 25.9,0 30,0 30,3.6 30.9,7.7 30.9,8.5" fill="#00ff00"/><polyline points="17.5,28 18,24.5 18.3,27" fill="none" stroke="#00ff00" stroke-width="1.3" stroke-linejoin="round"/><polyline points="14,27 14.5,31" fill="none" stroke="#00ff00" stroke-width="1.2" stroke-linejoin="round"/><polyline points="35.3,16 35.8,27" fill="none" stroke="#00ff00" stroke-width="1.3" stroke-linejoin="round"/><polyline points="39.5,35 40.5,36" fill="none" stroke="#00ff00" stroke-width="1.3" stroke-linejoin="round"/><polygon points="12.3,37.5 12.7,20 13.2,19 15.4,15.4 16.8,15.4 16.8,28 15.4,28 15.4,20 14.2,20 14,37.5" fill="#0000ff"/><polyline points="19.7,37.5 19.7,9.1 20.5,8.4 25.4,8.2 30.9,8.2 33.6,8.8 34.3,9.5 34.3,30 35,33 35.2,37.5" fill="none" stroke="#0000ff" stroke-width="1.7" stroke-linejoin="round"/><polygon points="16.5,37.5 17,32 20.5,31 20.5,37.5" fill="#0000ff"/><polygon points="26.8,8.2 28.6,8.2 28.6,37.5 26.8,37.5" fill="#0000ff"/><polygon points="21.3,9.5 22.7,9.5 22.7,20.8 21.3,20.8" fill="#0000ff"/><polygon points="30.9,9.5 32.2,9.5 32.2,21.8 30.9,21.8" fill="#0000ff"/><polygon points="36.7,37.5 36.7,13.6 38.6,13.6 38.6,37.5" fill="#0000ff"/><polyline points="12.3,36.3 15.4,34.5 17.3,29 20,30.8 21.8,34 23.6,34.5 26.3,34 27.7,25.4 29,30.8 31.8,34.5 34.5,32.6 35.8,29.9 37.2,31.7 38.6,34.5 40,36.3 42.5,37.2" fill="none" stroke="#ff0000" stroke-width="1.7" stroke-linejoin="round"/><polygon points="26.8,33 27.7,25 28.8,28 29,32" fill="#ff0000"/></svg><rect x="0.5" y="0.5" width="55" height="38" fill="none" stroke="#000" stroke-width="1"/></g><g transform="translate(156,345)"><svg x="0" y="0" width="56" height="39" overflow="hidden"><polyline points="10.9,37.2 13.6,35.4 18.2,34 21.3,31.7 22.7,27.2 23.6,24 24.5,10.9 25.4,16.3 26.3,21.8 28.1,23.6 29.5,21.8 30.4,15 31.3,25.4 32.7,29.9 34.5,30.8 36.3,33.5 38.1,35.4 40,37.2" fill="none" stroke="#00ff00" stroke-width="1.1" stroke-linejoin="round"/><polygon points="11,37.5 13.6,36.3 18.2,35 21.3,32.7 22.7,28.5 23.6,25.5 24.5,19 25.4,21 26.3,23.2 28.1,25 29.5,23.2 30.4,19.5 31.2,26.5 32.5,31 34.5,31.8 36.3,34.5 38.1,36.4 40,37.5 37,37.3 34,35 32,34 31,33 28,32 25.5,32 24.5,33 22.5,35 18,36.5 14,37.5" fill="#ff0000"/><polyline points="14.5,37.4 38.7,37.4" fill="none" stroke="#0000ff" stroke-width="1.3" stroke-linejoin="round"/><polyline points="24.4,33 24.4,37" fill="none" stroke="#0000ff" stroke-width="1.4" stroke-linejoin="round"/><polyline points="30.3,35.5 30.3,37" fill="none" stroke="#0000ff" stroke-width="1.2" stroke-linejoin="round"/></svg><rect x="0.5" y="0.5" width="55" height="38" fill="none" stroke="#000" stroke-width="1"/></g>
<rect x="191.5" y="389.5" width="273" height="24" fill="none" stroke="#000"/>
<line x1="198" y1="400.5" x2="239" y2="400.5" stroke="#00ff00"/>
<g filter="url(#crisp)"><text x="243" y="406" class="l">Global</text>
<line x1="288" y1="400.5" x2="330" y2="400.5" stroke="#0000ff"/>
<text x="333" y="406" class="l">Beam</text>
<line x1="375" y1="400.5" x2="416" y2="400.5" stroke="#ff0000"/>
<text x="420" y="406" class="l">Diffuse</text></g>
</svg>
</body></html>
